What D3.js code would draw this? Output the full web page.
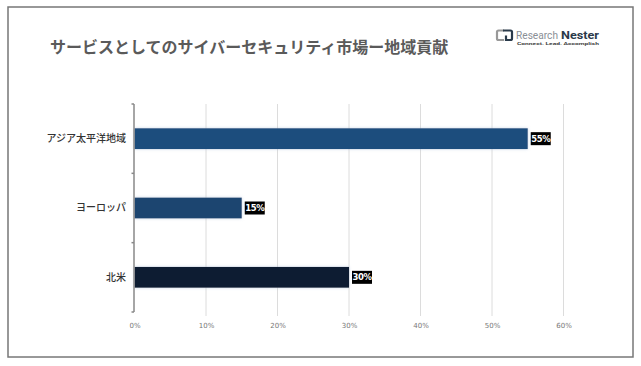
<!DOCTYPE html>
<html><head><meta charset="utf-8">
<script src="https://cdn.jsdelivr.net/npm/d3@7"></script>
<style>
html,body{margin:0;padding:0;background:#fff;}
svg{display:block;font-family:"Noto Sans CJK JP","Noto Sans",sans-serif;}
</style></head>
<body>
<svg id="chart" width="641" height="366"></svg>
<script>
const title = "サービスとしてのサイバーセキュリティ市場ー地域貢献";
const categories = ["アジア太平洋地域", "ヨーロッパ", "北米"];
const values = [55, 15, 30];
const barColors = ["#1f4e7d", "#1c4470", "#0e1e30"];
const xTicks = [0, 10, 20, 30, 40, 50, 60];

const svg = d3.select("#chart");

// frame
svg.append("rect").attr("x", 8).attr("y", 7).attr("width", 625).attr("height", 350)
  .attr("fill", "#fff").attr("stroke", "#777").attr("stroke-width", 1.5);

// title
svg.append("text").attr("x", 50).attr("y", 53)
  .attr("font-size", 16).attr("font-weight", "bold").attr("fill", "#5a5a5a")
  .text(title);

// logo
const logo = svg.append("g").attr("transform", "translate(496,29)");
logo.append("path").attr("d", "M8,1.5 H2.5 Q1,1.5 1,3 V9.5 Q1,11 2.5,11 H8")
  .attr("fill", "none").attr("stroke", "#999").attr("stroke-width", 2.2);
logo.append("path").attr("d", "M7,1.5 H14.5 Q16,1.5 16,3 V9.5 Q16,11 14.5,11 H10 V6.5")
  .attr("fill", "none").attr("stroke", "#2a3a4a").attr("stroke-width", 2.2);
logo.append("text").attr("x", 20).attr("y", 10).attr("font-family", "Roboto, sans-serif")
  .attr("font-size", 11).attr("textLength", 42).attr("lengthAdjust", "spacingAndGlyphs")
  .attr("fill", "#8a8f96").text("Research");
logo.append("text").attr("x", 65).attr("y", 10).attr("font-family", "Roboto, sans-serif")
  .attr("font-size", 11).attr("font-weight", "bold").attr("textLength", 38).attr("lengthAdjust", "spacingAndGlyphs")
  .attr("fill", "#2a3a4a").text("Nester");
logo.append("text").attr("x", 21).attr("y", 15.5).attr("font-family", "Roboto, sans-serif")
  .attr("font-size", 3.8).attr("font-weight", "bold").attr("textLength", 82).attr("lengthAdjust", "spacingAndGlyphs")
  .attr("fill", "#444").text("Connect. Lead. Accomplish");

// scales
const x = d3.scaleLinear().domain([0, 60]).range([134.5, 563.5]);
const y = d3.scaleBand().domain(categories).range([104, 312]).paddingInner(0.7).paddingOuter(0.35);

// gridlines
svg.append("g").selectAll("line").data(xTicks.filter(d => d > 0)).join("line")
  .attr("x1", d => x(d)).attr("x2", d => x(d))
  .attr("y1", 104).attr("y2", 316)
  .attr("stroke", "#dcdcdc").attr("stroke-width", 1);

// x axis labels
const xAxis = d3.axisBottom(x).tickValues(xTicks).tickFormat(d => d + "%").tickSize(0).tickPadding(0);
const gx = svg.append("g").attr("transform", "translate(0,323)").call(xAxis);
gx.select(".domain").remove();
gx.selectAll("text").attr("font-size", 7).attr("fill", "#777").attr("font-family", "DejaVu Sans, sans-serif");

// shadow filter
const defs = svg.append("defs");
const f = defs.append("filter").attr("id", "glow").attr("x", "-5%").attr("y", "-40%").attr("width", "110%").attr("height", "180%");
f.append("feDropShadow").attr("dx", 0).attr("dy", 0).attr("stdDeviation", 1.5).attr("flood-color", "#9fb8d6").attr("flood-opacity", 0.6);

// bars
svg.append("g").selectAll("rect").data(categories).join("rect")
  .attr("x", x(0)).attr("y", d => y(d))
  .attr("width", (d, i) => x(values[i]) - x(0))
  .attr("height", y.bandwidth())
  .attr("fill", (d, i) => barColors[i])
  .attr("filter", "url(#glow)");

// y axis
const yAxis = d3.axisLeft(y).tickSize(0).tickPadding(8);
const gy = svg.append("g").attr("transform", "translate(134,0)").call(yAxis);
gy.select(".domain").remove();
gy.selectAll("text").attr("font-size", 10).attr("fill", "#333").attr("font-weight", 500)
  .attr("font-family", "Noto Sans CJK JP, sans-serif");
// axis line with bracket ticks at band boundaries
const bounds = [104].concat(categories.map(c => y(c) + y.bandwidth() / 2 + y.step() / 2));
svg.append("line").attr("x1", 134).attr("x2", 134).attr("y1", 104).attr("y2", 312)
  .attr("stroke", "#888").attr("stroke-width", 1.5);
svg.append("g").selectAll("line").data(bounds).join("line")
  .attr("x1", 131.5).attr("x2", 134).attr("y1", d => d).attr("y2", d => d)
  .attr("stroke", "#888").attr("stroke-width", 1.5);

// value labels
const lg = svg.append("g").selectAll("g").data(categories).join("g")
  .attr("transform", (d, i) => `translate(${x(values[i]) + 3},${y(d) + y.bandwidth() / 2})`);
lg.append("rect").attr("x", 0).attr("y", -6.5).attr("width", 20).attr("height", 13).attr("fill", "#000");
lg.append("text").attr("x", 10).attr("y", 3).attr("text-anchor", "middle")
  .attr("font-size", 8.5).attr("font-weight", "bold").attr("fill", "#fff")
  .attr("font-family", "DejaVu Sans, sans-serif")
  .attr("letter-spacing", -0.5)
  .text((d, i) => values[i] + "%");
</script>
</body></html>
